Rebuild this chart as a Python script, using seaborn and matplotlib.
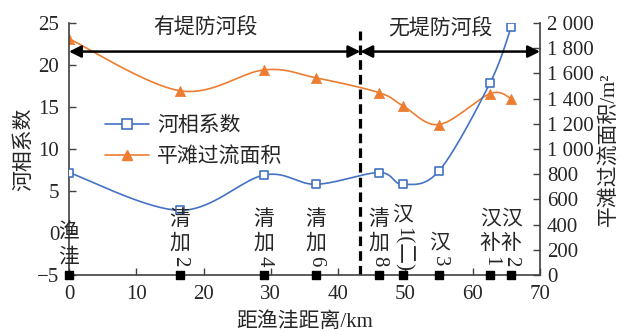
import numpy as np
import pandas as pd
import matplotlib
matplotlib.use("Agg")
import matplotlib.pyplot as plt
import seaborn as sns
from matplotlib.lines import Line2D

# ---------------- data ----------------
distance_km = [0, 16.5, 29.0, 36.7, 46.1, 49.6, 55.0, 62.6, 65.7]
stations = ["渔洼", "清加2", "清加4", "清加6", "清加8", "汉1(二)", "汉3", "汉补1", "汉补2"]
river_coef = [7.2, 2.7, 6.9, 5.8, 7.2, 5.8, 7.4, 17.9, 24.5]
bankfull_area = [1875, 1462, 1628, 1565, 1447, 1344, 1194, 1440, 1400]
series_names = ["河相系数", "平滩过流面积"]
left_ticks = [-5, 0, 5, 10, 15, 20, 25]
right_ticks = [0, 200, 400, 600, 800, 1000, 1200, 1400, 1600, 1800, 2000]
right_tick_labels = ["0", "200", "400", "600", "800", "1 000", "1 200", "1 400",
                     "1 600", "1 800", "2 000"]
x_ticks = [0, 10, 20, 30, 40, 50, 60, 70]
boundary_km = 43.3
section_names = ["有堤防河段", "无堤防河段"]
x_label = "距渔洼距离/km"
y_label_left = "河相系数"
y_label_right = "平滩过流面积/m²"

BLUE = "#4472C4"
ORANGE = "#ED7D31"

sns.set_style("ticks")
plt.rcParams["font.family"] = ["Liberation Serif", "Noto Sans CJK SC"]
plt.rcParams["axes.unicode_minus"] = True
FS = 15

df = pd.DataFrame({"distance": distance_km, "coef": river_coef, "area": bankfull_area})


def smooth(xs, ys, sx, sy, n=40):
    P = np.column_stack([np.asarray(xs, float) / sx, np.asarray(ys, float) / sy])
    pts = np.vstack([P[0], P, P[-1]])
    out = []
    t = np.linspace(0, 1, n)[:, None]
    for i in range(1, len(pts) - 2):
        p0, p1, p2, p3 = pts[i - 1], pts[i], pts[i + 1], pts[i + 2]
        c1 = p1 + (p2 - p0) / 6
        c2 = p2 - (p3 - p1) / 6
        seg = (1 - t) ** 3 * p1 + 3 * (1 - t) ** 2 * t * c1 + 3 * (1 - t) * t ** 2 * c2 + t ** 3 * p2
        out.append(seg if i == 1 else seg[1:])
    out = np.vstack(out)
    return out[:, 0] * sx, out[:, 1] * sy


fig = plt.figure(figsize=(6.26, 3.31), dpi=100)
ax = fig.add_axes([69 / 626, 1 - 275 / 331, 471 / 626, 252 / 331])
ax2 = ax.twinx()
ax.set_zorder(ax2.get_zorder() + 1)
ax.patch.set_visible(False)

ax.set_xlim(0, 70)
ax.set_ylim(-5, 25)
ax2.set_ylim(0, 2000)

# orange series (right axis)
sx_o, sy_o = smooth(distance_km, bankfull_area, 70 / 471, 2000 / 253)
ax2.plot(sx_o, sy_o, color=ORANGE, lw=1.2)
sns.scatterplot(data=df, x="distance", y="area", ax=ax2, marker="^", s=55,
                color=ORANGE, edgecolor=ORANGE, linewidth=0.5, zorder=3)

# blue series (left axis)
sx_b, sy_b = smooth(distance_km, river_coef, 70 / 471, 30 / 253)
ax.plot(sx_b, sy_b, color=BLUE, lw=1.2, zorder=3)
sns.scatterplot(data=df, x="distance", y="coef", ax=ax, marker="s", s=40,
                facecolor="white", edgecolor=BLUE, linewidth=1.2, zorder=4)

# station markers on the x axis
ax.scatter(distance_km, [-5] * len(distance_km), marker="s", s=34, color="black",
           zorder=6, clip_on=False)

# boundary line and section arrows
ax.plot([boundary_km, boundary_km], [-5, 24.0], color="black", lw=2.3,
        linestyle=(0, (3, 1.6)), zorder=2)
arrow_y = 21.6
for x0, x1 in [(0, boundary_km), (boundary_km, 70)]:
    ax.annotate("", xy=(x0, arrow_y), xytext=(x1, arrow_y),
                arrowprops=dict(arrowstyle="<|-|>", color="black", lw=1.8,
                                mutation_scale=18, shrinkA=0, shrinkB=0),
                annotation_clip=False)
ax.text(20.3, 24.3, section_names[0], ha="center", va="center", fontsize=FS)
ax.text(55.2, 24.3, section_names[1], ha="center", va="center", fontsize=FS)


def is_cjk(c):
    return "\u4e00" <= c <= "\u9fff"

em = FS * 100 / 72
for x, name in zip(distance_km, stations):
    k = 0
    while k < len(name) and is_cjk(name[k]):
        k += 1
    upright = list(name[:k])
    run = name[k:]
    cursor = 6
    if run:
        w = 0
        for c in run:
            if c.isdigit():
                w += 0.5 * em
            elif c in "()":
                w += 0.3 * em
            else:
                w += 0.75 * em
        lift = 3 if len(run) == 1 else 0
        ax.annotate(run, xy=(x, -5), xycoords="data", xytext=(0, cursor + lift + w / 2),
                    textcoords="offset pixels", ha="center", va="center",
                    rotation=-90, fontsize=FS, annotation_clip=False, zorder=5)
        cursor += w + 3
    for c in reversed(upright):
        ax.annotate(c, xy=(x, -5), xycoords="data", xytext=(0, cursor + 11.5),
                    textcoords="offset pixels", ha="center", va="center",
                    fontsize=FS, annotation_clip=False, zorder=5)
        cursor += 24

# axes styling
ax.set_xticks(x_ticks)
ax.set_yticks(left_ticks)
ax2.set_yticks(right_ticks)
ax2.set_yticklabels(right_tick_labels)
ax.tick_params(axis="both", direction="in", labelsize=FS, length=5, width=1, color="#404040")
ax.tick_params(axis="y", pad=7)
ax.tick_params(axis="x", pad=7)
ax2.tick_params(axis="y", direction="in", labelsize=FS, length=5, width=1, pad=5, color="#404040")
for a in (ax, ax2):
    a.spines["top"].set_visible(False)
    for s in ("left", "right", "bottom"):
        a.spines[s].set_color("#404040")
        a.spines[s].set_linewidth(1.2)
ax.spines["right"].set_visible(False)
ax2.spines["left"].set_visible(False)
ax2.spines["bottom"].set_visible(False)

ax.set_xlabel(x_label, fontsize=FS, labelpad=6)
ax.set_ylabel(y_label_left, fontsize=FS, labelpad=2)
ax2.set_ylabel(y_label_right, fontsize=FS, labelpad=4)

handles = [
    Line2D([], [], color=BLUE, lw=1.2, marker="s", markersize=6.5,
           markerfacecolor="white", markeredgecolor=BLUE, markeredgewidth=1.2),
    Line2D([], [], color=ORANGE, lw=1.2, marker="^", markersize=7.5,
           markerfacecolor=ORANGE, markeredgecolor=ORANGE),
]
ax.legend(handles, series_names, loc="upper left", bbox_to_anchor=(0.076, 0.63),
          frameon=False, fontsize=FS, handlelength=2.1, handletextpad=0.4,
          borderpad=0, borderaxespad=0, labelspacing=0.55)

fig.savefig("out.png", dpi=100)
